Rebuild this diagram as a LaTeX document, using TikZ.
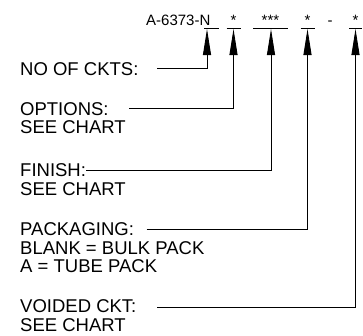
\documentclass[tikz,border=0pt]{standalone}
\usepackage{fontspec}
\setmainfont{Liberation Sans}
\usetikzlibrary{arrows.meta}
\begin{document}
\begin{tikzpicture}[x=1pt,y=-1pt,
  lbl/.style={font=\fontsize{18.5}{18.6}\selectfont,inner sep=0pt,align=left,anchor=base west},
  code/.style={font=\fontsize{15}{15}\selectfont,inner sep=0pt,anchor=base},
  uline/.style={line width=0.9pt},
  lead/.style={line width=0.9pt,-{Triangle[length=26pt,width=8pt]}}]
\useasboundingbox (0,0) rectangle (363,335);
% part number
\node[code,anchor=base west] (pn) at (146,25) {A-6373-N};
\node[code] (k1) at (233.5,25) {*};
\node[code] (k2) at (270.5,25) {***};
\node[code] (k3) at (307.5,25) {*};
\node[code] (dash) at (330,25) {-};
\node[code] (k4) at (355.5,25) {*};
% underlines
\coordinate (u1a) at (204,28.5); \coordinate (u1b) at (219,28.5);
\coordinate (u2a) at (226.5,28.5); \coordinate (u2b) at (241,28.5);
\coordinate (u3a) at (253,28.5); \coordinate (u3b) at (288,28.5);
\coordinate (u4a) at (300.5,28.5); \coordinate (u4b) at (315,28.5);
\coordinate (u5a) at (349,28.5); \coordinate (u5b) at (362,28.5);
\draw[uline] (u1a) -- (u1b);
\draw[uline] (u2a) -- (u2b);
\draw[uline] (u3a) -- (u3b);
\draw[uline] (u4a) -- (u4b);
\draw[uline] (u5a) -- (u5b);
% arrow tips
\coordinate (t1) at (207,29);
\coordinate (t2) at (233.5,29);
\coordinate (t3) at (271,29);
\coordinate (t4) at (307.5,29);
\coordinate (t5) at (355.5,29);
% labels (anchor = baseline of the last line)
\node[lbl] (l1) at (20,75) {NO OF CKTS:};
\node[lbl] (l2) at (20,133.6) {OPTIONS:\\SEE CHART};
\node[lbl] (l3) at (20,195.3) {FINISH:\\SEE CHART};
\node[lbl] (l4) at (20,272.9) {PACKAGING:\\BLANK = BULK PACK\\A = TUBE PACK};
\node[lbl,text depth=0pt] (l5) at (20,331.5) {VOIDED CKT:\\SEE CHART};
% leader starts
\coordinate (s1) at (157.3,68.3);
\coordinate (s2) at (129.3,108.3);
\coordinate (s3) at (86,170);
\coordinate (s4) at (146.7,229);
\coordinate (s5) at (157.3,307.5);
\draw[lead] (s1) -| (t1);
\draw[lead] (s2) -| (t2);
\draw[lead] (s3) -| (t3);
\draw[lead] (s4) -| (t4);
\draw[lead] (s5) -| (t5);
\end{tikzpicture}
\end{document}
